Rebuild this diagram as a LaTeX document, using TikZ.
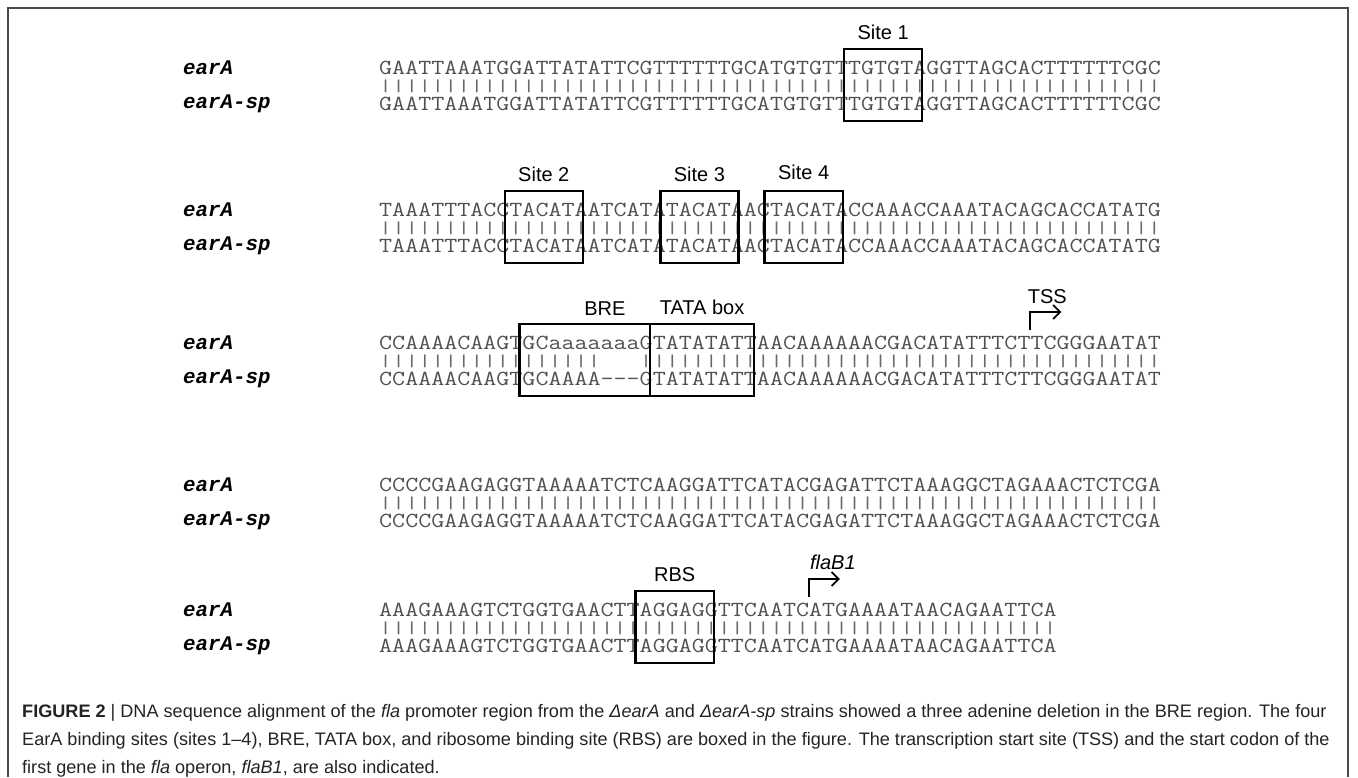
\documentclass[tikz,border=0pt]{standalone}
\usepackage{fontspec}
\setmainfont{Liberation Sans}
\newfontfamily\seqfont{Latin Modern Mono}[FakeStretch=1.1765]
\newfontfamily\strainfont{Liberation Mono}
\usepackage{graphicx}
\usepackage{tikz}
\usetikzlibrary{arrows.meta, positioning}

\definecolor{seqgray}{RGB}{80,80,80}
\definecolor{bargray}{RGB}{105,105,105}
\definecolor{framegray}{RGB}{75,75,75}
\definecolor{captext}{RGB}{35,35,35}

\tikzset{
    seqtext/.style={anchor=west, inner sep=0pt, text=seqgray, font=\seqfont\fontsize{21.5}{21.5}\selectfont},
    seqbars/.style={seqtext, text=bargray},
    strainlbl/.style={anchor=west, inner sep=0pt, font=\strainfont\bfseries\itshape\fontsize{20.8}{20.8}\selectfont},
    sitebox/.style={draw=black, line width=2.4pt, inner sep=0pt, outer sep=0pt, anchor=north west, minimum width=#1*\cw, minimum height=72},
    sitelbl/.style={inner sep=0pt, outer sep=0pt, font=\fontsize{20}{20}\selectfont},
    startarrow/.style={-{Straight Barb[length=7pt, width=14pt]}, line width=1.8pt},
    captionbox/.style={anchor=north west, inner sep=0pt, align=left, text=captext, font=\fontsize{18.1}{28}\selectfont}
}

\newlength\seqw
\newcommand{\barrun}[1]{\scalebox{1}[0.78]{#1}}

\begin{document}
\settowidth{\seqw}{\seqfont\fontsize{21.5}{21.5}\selectfont A}
\pgfmathsetmacro{\cw}{\seqw}
\begin{tikzpicture}[x=1pt, y=-1pt]
\useasboundingbox (0,0) rectangle (1358,777);
\def\xo{379}
\def\rowa{68}
\def\rowb{210}
\def\rowc{343}
\def\rowd{485}
\def\rowe{610}

% frame
\draw[framegray, line width=2pt] (8,777) -- (8,8) -- (1348,8) -- (1348,777);

% row 1
\node[strainlbl] (sa1) at (183,\rowa) {earA};
\node[strainlbl] (sb1) at (183,\rowa+36) {earA-sp};
\node[seqtext] (qa1) at (\xo,\rowa) {GAATTAAATGGATTATATTCGTTTTTTGCATGTGTTTGTGTAGGTTAGCACTTTTTTCGC};
\node[seqbars] (bar1) at (\xo,\rowa+18) {\barrun{||||||||||||||||||||||||||||||||||||||||||||||||||||||||||||}};
\node[seqtext] (qb1) at (\xo,\rowa+36) {GAATTAAATGGATTATATTCGTTTTTTGCATGTGTTTGTGTAGGTTAGCACTTTTTTCGC};
\node[sitebox=6] (site1) at ({\xo+35.7*\cw},\rowa-19) {};
\node[sitelbl, above=9pt of site1] (site1lbl) {Site 1};

% row 2
\node[strainlbl] (sa2) at (183,\rowb) {earA};
\node[strainlbl] (sb2) at (183,\rowb+36) {earA-sp};
\node[seqtext] (qa2) at (\xo,\rowb) {TAAATTTACCTACATAATCATATACATAACTACATACCAAACCAAATACAGCACCATATG};
\node[seqbars] (bar2) at (\xo,\rowb+18) {\barrun{||||||||||||||||||||||||||||||||||||||||||||||||||||||||||||}};
\node[seqtext] (qb2) at (\xo,\rowb+36) {TAAATTTACCTACATAATCATATACATAACTACATACCAAACCAAATACAGCACCATATG};
\node[sitebox=6] (site2) at ({\xo+9.65*\cw},\rowb-19) {};
\node[sitebox=6] (site3) at ({\xo+21.6*\cw},\rowb-19) {};
\node[sitebox=6] (site4) at ({\xo+29.6*\cw},\rowb-19) {};
\node[sitelbl, above=9pt of site2] (site2lbl) {Site 2};
\node[sitelbl, above=9pt of site3] (site3lbl) {Site 3};
\node[sitelbl, above=11pt of site4] (site4lbl) {Site 4};

% row 3
\node[strainlbl] (sa3) at (183,\rowc) {earA};
\node[strainlbl] (sb3) at (183,\rowc+36) {earA-sp};
\node[seqtext] (qa3) at (\xo,\rowc) {CCAAAACAAGTGCaaaaaaaGTATATATTAACAAAAAACGACATATTTCTTCGGGAATAT};
\node[seqbars] (bar3) at (\xo,\rowc+18) {\barrun{|||||||||||||||||}};
\node[seqbars] (bar3b) at ({\xo+20*\cw},\rowc+18) {\barrun{||||||||||||||||||||||||||||||||||||||||}};
\node[seqtext] (qb3) at (\xo,\rowc+36) {CCAAAACAAGTGCAAAA\mbox{-}\mbox{-}\mbox{-}GTATATATTAACAAAAAACGACATATTTCTTCGGGAATAT};
\node[sitebox=10] (bre) at ({\xo+10.8*\cw},\rowc-19) {};
\node[sitebox=8] (tata) at ({\xo+20.8*\cw},\rowc-19) {};
\node[sitelbl, above=9pt of bre, xshift=20pt] (brelbl) {BRE};
\node[sitelbl, above=9pt of tata] (tatalbl) {TATA box};
\coordinate (tss) at ({\xo+50*\cw},\rowc-13);
\draw[startarrow] (tss) |- ++(31,-18) coordinate (tsstip);
\node[sitelbl, above=8pt of tsstip, xshift=-14pt] (tsslbl) {TSS};

% row 4
\node[strainlbl] (sa4) at (183,\rowd) {earA};
\node[strainlbl] (sb4) at (183,\rowd+36) {earA-sp};
\node[seqtext] (qa4) at (\xo,\rowd) {CCCCGAAGAGGTAAAAATCTCAAGGATTCATACGAGATTCTAAAGGCTAGAAACTCTCGA};
\node[seqbars] (bar4) at (\xo,\rowd+18) {\barrun{||||||||||||||||||||||||||||||||||||||||||||||||||||||||||||}};
\node[seqtext] (qb4) at (\xo,\rowd+36) {CCCCGAAGAGGTAAAAATCTCAAGGATTCATACGAGATTCTAAAGGCTAGAAACTCTCGA};

% row 5
\node[strainlbl] (sa5) at (183,\rowe) {earA};
\node[strainlbl] (sb5) at (183,\rowe+36) {earA-sp};
\node[seqtext] (qa5) at (\xo,\rowe) {AAAGAAAGTCTGGTGAACTTAGGAGGTTCAATCATGAAAATAACAGAATTCA};
\node[seqbars] (bar5) at (\xo,\rowe+18) {\barrun{||||||||||||||||||||||||||||||||||||||||||||||||||||}};
\node[seqtext] (qb5) at (\xo,\rowe+36) {AAAGAAAGTCTGGTGAACTTAGGAGGTTCAATCATGAAAATAACAGAATTCA};
\node[sitebox=6] (rbs) at ({\xo+19.7*\cw},\rowe-19) {};
\node[sitelbl, above=9pt of rbs] (rbslbl) {RBS};
\coordinate (atg) at ({\xo+33*\cw},\rowe-13);
\draw[startarrow] (atg) |- ++(31,-18) coordinate (atgtip);
\node[sitelbl, above=9pt of atgtip, xshift=-7pt] (flalbl) {\textit{flaB1}};

% caption
\node[captionbox] (caption) at (22,704) {\textbf{FIGURE 2} | DNA sequence alignment of the \textit{fla} promoter region from the \textit{ΔearA} and \textit{ΔearA-sp} strains showed a three adenine deletion in the BRE region. The four\\
EarA binding sites (sites 1–4), BRE, TATA box, and ribosome binding site (RBS) are boxed in the figure. The transcription start site (TSS) and the start codon of the\\
first gene in the \textit{fla} operon, \textit{flaB1}, are also indicated.};
\end{tikzpicture}
\end{document}
